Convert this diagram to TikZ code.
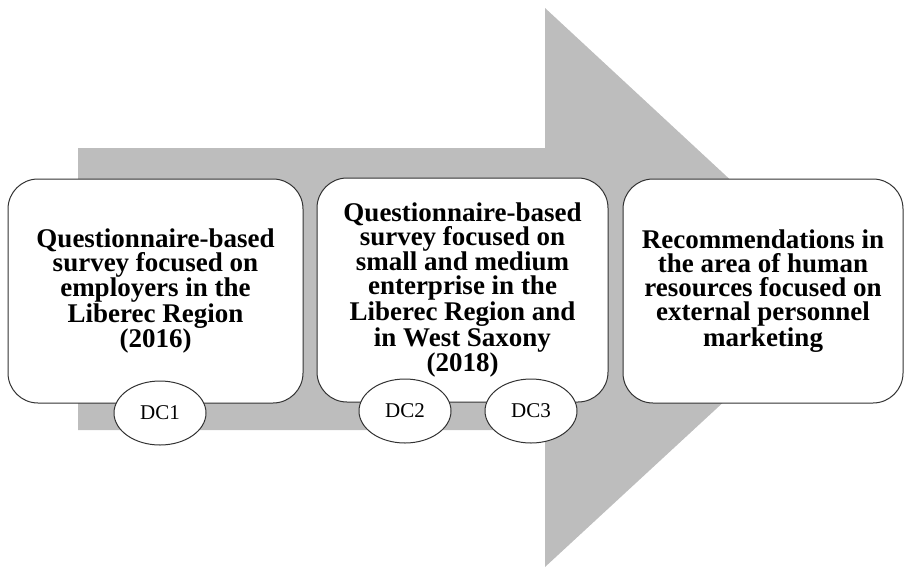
\documentclass[tikz,border=0pt]{standalone}
\usepackage{fontspec}
\setmainfont{Liberation Serif}
\usetikzlibrary{shapes.geometric}
\definecolor{arrowgray}{RGB}{189,189,189}
\definecolor{linegray}{RGB}{50,50,50}
\tikzset{
  stagebox/.style={draw=linegray, line width=1pt, fill=white, rounded corners=30pt,
    minimum height=224pt, align=center, inner sep=0pt,
    font=\fontsize{27}{24}\selectfont\bfseries},
  dcellipse/.style={draw=linegray, line width=1pt, fill=white, ellipse,
    minimum width=92pt, minimum height=64pt, inner sep=0pt,
    font=\fontsize{21}{22}\selectfont}
}
\begin{document}
\begin{tikzpicture}[x=1pt,y=-1pt]
\useasboundingbox (0,0) rectangle (904,568);
% big arrow
\fill[arrowgray] (78,148) -- (545,148) -- (545,8) -- (847,288) -- (545,567) -- (545,430) -- (78,430) -- cycle;
% boxes
\node[stagebox, minimum width=295pt] (b1) at (155.5,291) {Questionnaire-based\\survey focused on\\employers in the\\Liberec Region\\(2016)};
\node[stagebox, minimum width=291pt] (b2) at (462.5,290) {Questionnaire-based\\survey focused on\\small and medium\\enterprise in the\\Liberec Region and\\in West Saxony\\(2018)};
\node[stagebox, minimum width=280pt] (b3) at (763,291) {Recommendations in\\the area of human\\resources focused on\\external personnel\\marketing};
% ellipses
\node[dcellipse] (dc1) at (160,413) {DC1};
\node[dcellipse] (dc2) at (405,411) {DC2};
\node[dcellipse] (dc3) at (531,411) {DC3};
\end{tikzpicture}
\end{document}
